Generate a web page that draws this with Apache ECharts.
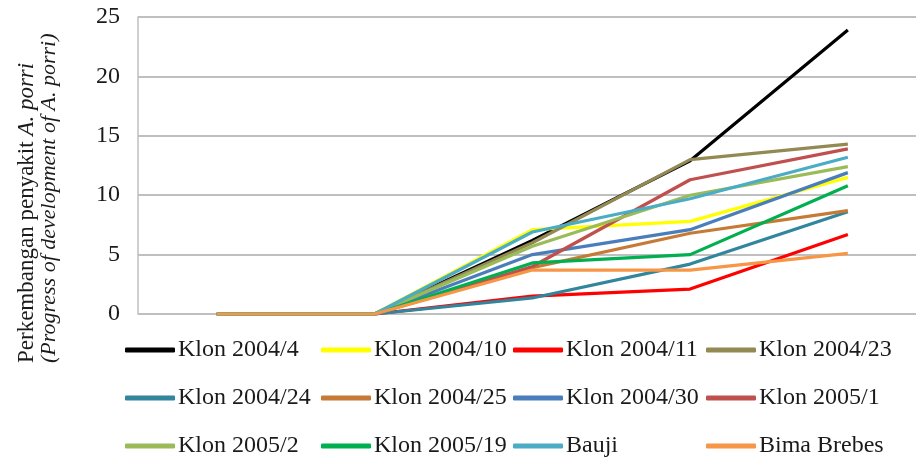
<!DOCTYPE html>
<html>
<head>
<meta charset="utf-8">
<script src="https://cdn.jsdelivr.net/npm/echarts@6/dist/echarts.min.js"></script>
<style>
  html, body { margin: 0; padding: 0; background: #fff; }
  #chart { width: 916px; height: 459px; }
</style>
</head>
<body>
<div id="chart"></div>
<script>
// Categories (observation points, unlabeled in the figure)
var categories = [1, 2, 3, 4, 5];

// Series names
var seriesNames = ['Klon 2004/4', 'Klon 2004/10', 'Klon 2004/11', 'Klon 2004/23',
                   'Klon 2004/24', 'Klon 2004/25', 'Klon 2004/30', 'Klon 2005/1',
                   'Klon 2005/2', 'Klon 2005/19', 'Bauji', 'Bima Brebes'];

// Series values
var klon2004_4  = [0, 0, 6.2, 12.9, 23.9];
var klon2004_10 = [0, 0, 7.1, 7.8, 11.5];
var klon2004_11 = [0, 0, 1.5, 2.1, 6.7];
var klon2004_23 = [0, 0, 6.0, 13.0, 14.3];
var klon2004_24 = [0, 0, 1.35, 4.2, 8.6];
var klon2004_25 = [0, 0, 3.9, 6.8, 8.7];
var klon2004_30 = [0, 0, 5.0, 7.1, 11.9];
var klon2005_1  = [0, 0, 4.0, 11.3, 13.9];
var klon2005_2  = [0, 0, 5.7, 10.0, 12.4];
var klon2005_19 = [0, 0, 4.3, 5.0, 10.8];
var bauji       = [0, 0, 6.9, 9.7, 13.2];
var bimaBrebes  = [0, 0, 3.7, 3.7, 5.1];

// Y-axis tick labels
var yTicks = [0, 5, 10, 15, 20, 25];

var allValues = [klon2004_4, klon2004_10, klon2004_11, klon2004_23, klon2004_24, klon2004_25,
                 klon2004_30, klon2005_1, klon2005_2, klon2005_19, bauji, bimaBrebes];

var colors = ['#000000', '#ffff00', '#ff0000', '#938953', '#31859c', '#c67a35',
              '#4a7ebb', '#c0504d', '#9bbb59', '#00b050', '#4bacc6', '#f79646'];

var FONT = '"Liberation Serif", "Times New Roman", serif';

var series = seriesNames.map(function (name, i) {
  return {
    name: name,
    type: 'line',
    data: categories.map(function (c, k) { return [c, allValues[i][k]]; }),
    symbol: 'none',
    smooth: false,
    clip: false,
    lineStyle: { width: 3.2, color: colors[i] },
    itemStyle: { color: colors[i] },
    z: 2 + i
  };
});

// Legend layout: 4 columns x 3 rows
var colLeft = [125, 321, 513, 706];
var rowTop = [350, 398, 446];
var legends = seriesNames.map(function (name, i) {
  var r = Math.floor(i / 4), c = i % 4;
  return {
    data: [name],
    left: colLeft[c],
    top: rowTop[r] - 12,
    icon: 'roundRect',
    itemWidth: 50,
    itemHeight: 5,
    itemGap: 0,
    padding: 0,
    textStyle: { fontFamily: FONT, fontSize: 24, color: '#1a1a1a', padding: [0, 0, 6, -2] },
    selectedMode: false
  };
});

var chart = echarts.init(document.getElementById('chart'), null, { renderer: 'canvas' });
chart.setOption({
  animation: false,
  backgroundColor: '#ffffff',
  grid: { left: 138, top: 17, right: 0, height: 297, containLabel: false },
  xAxis: {
    type: 'value',
    min: 0.5,
    max: 5.432,
    axisLine: { show: false },
    axisTick: { show: false },
    axisLabel: { show: false },
    splitLine: { show: false }
  },
  yAxis: {
    type: 'value',
    min: 0,
    max: 25,
    interval: 5,
    axisLine: { show: true, lineStyle: { color: '#bfbfbf', width: 1.5 } },
    axisTick: { show: false },
    axisLabel: {
      fontFamily: FONT, fontSize: 24, color: '#1a1a1a', margin: 18,
      formatter: function (v) { return yTicks.indexOf(v) >= 0 ? String(v) : ''; }
    },
    splitLine: { show: true, lineStyle: { color: '#bfbfbf', width: 2 } }
  },
  legend: legends,
  graphic: [
    {
      type: 'text',
      x: 27, y: 363,
      rotation: Math.PI / 2,
      style: {
        text: '{n|Perkembangan penyakit }{i|A. porri}',
        textAlign: 'left',
        textVerticalAlign: 'middle',
        rich: {
          n: { fontFamily: FONT, fontSize: 23, fill: '#1a1a1a' },
          i: { fontFamily: FONT, fontSize: 23, fontStyle: 'italic', fill: '#1a1a1a' }
        }
      }
    },
    {
      type: 'text',
      x: 49, y: 363,
      rotation: Math.PI / 2,
      style: {
        text: '(Progress of development of A. porri)',
        textAlign: 'left',
        textVerticalAlign: 'middle',
        fontFamily: FONT, fontSize: 22, fontStyle: 'italic', fill: '#1a1a1a'
      }
    }
  ],
  series: series
});
</script>
</body>
</html>
